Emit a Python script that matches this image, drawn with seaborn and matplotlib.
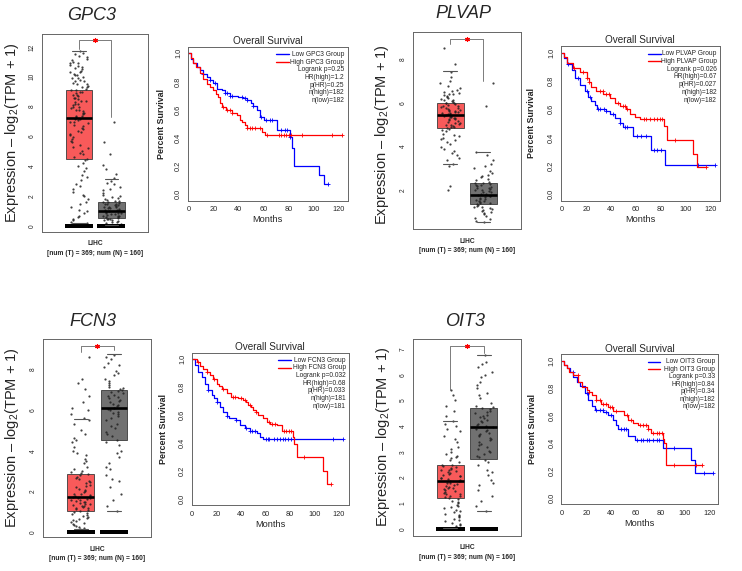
import numpy as np
import pandas as pd
import matplotlib
matplotlib.use("Agg")
import matplotlib.pyplot as plt
import seaborn as sns

sns.set_style("white")
plt.rcParams['font.family'] = ['Liberation Sans', 'DejaVu Sans']
plt.rcParams['mathtext.fontset'] = 'custom'
plt.rcParams['mathtext.rm'] = 'Liberation Sans'
plt.rcParams['mathtext.it'] = 'Liberation Sans:italic'
plt.rcParams['mathtext.bf'] = 'Liberation Sans:bold'

np.random.seed(3)

# ---------------- data ----------------
genes = ["GPC3", "PLVAP", "FCN3", "OIT3"]

# box statistics (tumor T / normal N)
t_q1 = [4.5, 4.85, 1.06, 1.22]
t_med = [7.22, 5.46, 1.75, 1.86]
t_q3 = [9.12, 5.98, 2.86, 2.48]
t_lo = [0.2, 3.19, 0.15, 0.05]
t_hi = [11.75, 7.48, 5.54, 4.21]
n_q1 = [0.52, 1.36, 4.54, 2.72]
n_med = [0.98, 1.8, 6.09, 3.98]
n_q3 = [1.59, 2.35, 6.97, 4.72]
n_lo = [0.05, 0.53, 1.04, 0.69]
n_hi = [3.17, 3.74, 8.72, 6.77]

# counts of zero-valued samples (drawn as the thick band at 0)
t_zero = [90, 0, 90, 90]
n_zero = [80, 0, 80, 80]

# individual sample points (representative)
gpc3_t = [11.7, 11.6, 11.5, 11.4, 11.3, 11.2, 11.1, 11.0, 10.95, 10.9, 10.8, 10.7, 10.65, 10.6,
          10.5, 10.4, 10.35, 10.3, 10.2, 10.15, 10.1, 10.0, 9.95, 9.9, 9.8, 9.75, 9.7, 9.6,
          9.55, 9.5, 9.4, 9.35, 9.3, 9.2, 9.15, 9.1, 9.0, 8.95, 8.9, 8.8, 8.75, 8.7, 8.6, 8.55,
          8.5, 8.4, 8.35, 8.3, 8.2, 8.15, 8.1, 8.0, 7.95, 7.9, 7.8, 7.75, 7.7, 7.6, 7.55, 7.5,
          7.4, 7.35, 7.3, 7.2, 7.15, 7.1, 7.0, 6.95, 6.9, 6.8, 6.7, 6.6, 6.5, 6.4, 6.3, 6.2,
          6.1, 6.0, 5.8, 5.7, 5.6, 5.4, 5.3, 5.2, 5.0, 4.9, 4.8, 4.6, 4.5, 4.4, 4.2, 4.0, 3.9,
          3.7, 3.4, 3.3, 3.1, 2.8, 2.7, 2.5, 2.3, 2.1, 2.0, 1.8, 1.6, 1.5, 1.3, 1.1, 1.0, 0.9,
          0.7, 0.6, 0.5, 0.4, 0.3, 0.2]
gpc3_n = [7.0, 5.6, 4.8, 4.1, 3.8, 3.5, 3.2, 3.0, 2.9, 2.8, 2.6, 2.5, 2.4, 2.2, 2.1, 2.0, 1.95,
          1.9, 1.8, 1.75, 1.7, 1.65, 1.62, 1.6, 1.55, 1.5, 1.48, 1.45, 1.4, 1.38, 1.35, 1.3,
          1.28, 1.25, 1.2, 1.18, 1.15, 1.1, 1.08, 1.05, 1.0, 0.98, 0.95, 0.9, 0.88, 0.85, 0.8,
          0.78, 0.75, 0.7, 0.68, 0.65, 0.6, 0.58, 0.55, 0.5, 0.48, 0.45, 0.4, 0.38, 0.35, 0.3,
          0.25, 0.2, 0.15, 0.1]
plvap_t = [8.5, 7.8, 7.4, 7.2, 7.0, 6.9, 6.8, 6.7, 6.6, 6.55, 6.5, 6.45, 6.42, 6.4, 6.35, 6.3,
           6.28, 6.25, 6.2, 6.15, 6.12, 6.1, 6.05, 6.02, 6.0, 5.98, 5.95, 5.9, 5.88, 5.85, 5.8,
           5.78, 5.75, 5.72, 5.7, 5.68, 5.65, 5.62, 5.6, 5.58, 5.55, 5.52, 5.5, 5.48, 5.45,
           5.42, 5.4, 5.38, 5.35, 5.32, 5.3, 5.28, 5.25, 5.2, 5.18, 5.15, 5.1, 5.08, 5.05, 5.0,
           4.98, 4.95, 4.9, 4.88, 4.85, 4.8, 4.75, 4.7, 4.6, 4.55, 4.5, 4.4, 4.35, 4.3, 4.2,
           4.1, 4.0, 3.9, 3.8, 3.7, 3.6, 3.5, 3.4, 3.2, 3.1, 2.2, 2.0]
plvap_n = [6.9, 5.85, 3.75, 3.6, 3.4, 3.2, 3.1, 3.0, 2.9, 2.8, 2.7, 2.65, 2.6, 2.5, 2.45, 2.4,
           2.35, 2.32, 2.3, 2.25, 2.22, 2.2, 2.15, 2.12, 2.1, 2.05, 2.02, 2.0, 1.95, 1.92, 1.9,
           1.85, 1.82, 1.8, 1.75, 1.72, 1.7, 1.65, 1.62, 1.6, 1.55, 1.52, 1.5, 1.45, 1.42, 1.4,
           1.35, 1.32, 1.3, 1.25, 1.22, 1.2, 1.15, 1.1, 1.05, 1.0, 0.95, 0.9, 0.8, 0.75, 0.7,
           0.6, 0.53]
fcn3_t = [8.6, 7.5, 7.3, 7.0, 6.7, 6.4, 6.1, 6.0, 5.8, 5.6, 5.5, 5.3, 5.0, 4.8, 4.6, 4.5, 4.4,
          4.2, 4.0, 3.9, 3.8, 3.6, 3.5, 3.4, 3.2, 3.1, 3.0, 2.95, 2.9, 2.85, 2.8, 2.7, 2.65, 2.6,
          2.5, 2.45, 2.4, 2.3, 2.25, 2.2, 2.1, 2.05, 2.0, 1.95, 1.9, 1.88, 1.85, 1.8, 1.78,
          1.75, 1.7, 1.68, 1.65, 1.6, 1.58, 1.55, 1.5, 1.48, 1.45, 1.4, 1.38, 1.35, 1.3, 1.28,
          1.25, 1.2, 1.18, 1.15, 1.1, 1.05, 1.0, 0.95, 0.9, 0.85, 0.8, 0.75, 0.7, 0.65, 0.6,
          0.55, 0.5, 0.45, 0.4, 0.35, 0.3, 0.25, 0.2, 0.15]
fcn3_n = [8.7, 8.6, 8.5, 8.3, 8.2, 8.1, 7.9, 7.8, 7.7, 7.5, 7.4, 7.3, 7.2, 7.1, 7.05, 7.0, 6.95,
          6.9, 6.85, 6.8, 6.75, 6.7, 6.65, 6.6, 6.5, 6.45, 6.4, 6.3, 6.25, 6.2, 6.1, 6.05, 6.0,
          5.9, 5.85, 5.8, 5.7, 5.6, 5.5, 5.3, 5.2, 5.1, 4.9, 4.8, 4.7, 4.5, 4.4, 4.3, 4.0, 3.9,
          3.7, 3.4, 3.2, 3.1, 2.8, 2.6, 2.5, 2.2, 1.9, 1.6, 1.3, 1.04]
oit3_t = [5.4, 5.2, 5.0, 4.8, 4.6, 4.4, 4.2, 4.1, 4.0, 3.9, 3.8, 3.6, 3.5, 3.4, 3.2, 3.1, 3.0,
          2.9, 2.85, 2.8, 2.75, 2.7, 2.6, 2.5, 2.48, 2.45, 2.4, 2.38, 2.35, 2.3, 2.28, 2.25,
          2.2, 2.18, 2.15, 2.1, 2.08, 2.05, 2.0, 1.98, 1.95, 1.9, 1.88, 1.85, 1.8, 1.78, 1.75,
          1.7, 1.68, 1.65, 1.6, 1.58, 1.55, 1.5, 1.48, 1.45, 1.4, 1.38, 1.35, 1.3, 1.28, 1.25,
          1.2, 1.18, 1.1, 1.05, 1.0, 0.95, 0.9, 0.85, 0.8, 0.75, 0.7, 0.65, 0.6, 0.55, 0.5,
          0.45, 0.4, 0.35, 0.3, 0.25, 0.2, 0.15, 0.1]
oit3_n = [6.77, 6.5, 6.4, 6.3, 6.1, 6.0, 5.9, 5.7, 5.6, 5.5, 5.3, 5.2, 5.1, 4.9, 4.8, 4.75,
          4.7, 4.65, 4.6, 4.55, 4.5, 4.45, 4.4, 4.35, 4.3, 4.25, 4.2, 4.15, 4.1, 4.05, 4.0,
          3.95, 3.9, 3.85, 3.8, 3.75, 3.7, 3.65, 3.6, 3.55, 3.5, 3.45, 3.4, 3.3, 3.25, 3.2,
          3.1, 3.05, 3.0, 2.9, 2.85, 2.8, 2.7, 2.6, 2.5, 2.3, 2.2, 2.1, 1.9, 1.8, 1.7, 1.5, 1.3,
          1.1, 0.9, 0.69]
points_t = [gpc3_t, plvap_t, fcn3_t, oit3_t]
points_n = [gpc3_n, plvap_n, fcn3_n, oit3_n]

# significance brackets: bar height, left leg end, right leg end
br_y = [12.44, 8.93, 9.15, 7.12]
br_left = [11.87, 8.72, 8.84, 5.41]
br_right = [7.3, 7.03, 8.94, 6.83]

box_ylim = [(-0.4, 12.87), (0.21, 9.24), (-0.245, 9.47), (-0.27, 7.39)]
box_yticks = [[0, 2, 4, 6, 8, 10, 12], [2, 4, 6, 8], [0, 2, 4, 6, 8], [0, 1, 2, 3, 4, 5, 6, 7]]

# Kaplan-Meier curves: event times and survival after each step
km = {
    "GPC3": {
        "low_t": [2, 4, 7, 9.3, 12, 14.6, 17, 20, 22.6, 26.6, 29, 33, 40, 44, 46.5, 50, 52, 54.5,
                  57, 60, 70.5, 81, 82.4, 84.5, 104.5, 108],
        "low_s": [0.96, 0.93, 0.90, 0.88, 0.85, 0.83, 0.81, 0.79, 0.75, 0.74, 0.72, 0.70, 0.69,
                  0.68, 0.67, 0.65, 0.63, 0.60, 0.55, 0.53, 0.455, 0.41, 0.33, 0.20, 0.135, 0.07],
        "low_end": 111.5,
        "low_c": [12, 17, 21, 29, 31, 33, 35, 43, 45, 47, 52, 58, 62, 65, 67, 74, 77, 79, 81, 111.5],
        "high_t": [2, 4, 6, 9, 12, 15, 17, 20, 22, 24, 25.5, 26.6, 30, 35, 38.6, 41, 43, 45, 46.5,
                   58.5, 61],
        "high_s": [0.97, 0.93, 0.90, 0.86, 0.82, 0.78, 0.76, 0.74, 0.71, 0.69, 0.65, 0.62, 0.60,
                   0.58, 0.56, 0.53, 0.51, 0.49, 0.47, 0.44, 0.42],
        "high_end": 123,
        "high_c": [28, 31, 33, 35, 47, 49, 51, 53, 57, 63, 72, 74, 76, 78, 80, 82, 91, 115, 123],
        "stats": ["Logrank p=0.25", "HR(high)=1.2", "p(HR)=0.25", "n(high)=182", "n(low)=182"],
        "xlim": (-0.5, 127.2),
    },
    "PLVAP": {
        "low_t": [2, 4, 8, 10.7, 14.8, 18.8, 21.5, 24, 26.8, 28.7, 36, 39, 43, 47, 49.7, 57.7,
                  72, 83.5],
        "low_s": [0.96, 0.92, 0.88, 0.82, 0.775, 0.73, 0.69, 0.66, 0.63, 0.60, 0.585, 0.57, 0.54,
                  0.50, 0.475, 0.41, 0.31, 0.205],
        "low_end": 123.5,
        "low_c": [5, 13, 20, 23, 29, 31, 34, 36, 41, 47, 51, 53, 61, 64, 68, 74, 77, 80, 110, 123.5],
        "high_t": [2, 4, 9.4, 14.8, 20, 22, 24, 28, 33.5, 39, 43, 47, 52, 55, 59, 63, 82.4, 84.6,
                   105.5, 108.7],
        "high_s": [0.97, 0.93, 0.89, 0.86, 0.82, 0.79, 0.76, 0.73, 0.71, 0.68, 0.645, 0.62, 0.60,
                   0.57, 0.545, 0.53, 0.485, 0.38, 0.285, 0.19],
        "high_end": 116,
        "high_c": [10, 17, 20, 22, 31, 33, 36, 38, 45, 49, 51, 53, 66, 68, 71, 74, 77, 79, 81, 91, 116],
        "stats": ["Logrank p=0.026", "HR(high)=0.67", "p(HR)=0.027", "n(high)=182", "n(low)=182"],
        "xlim": (-0.8, 127.5),
    },
    "FCN3": {
        "low_t": [2, 5, 7.6, 10.4, 13, 15.8, 18, 20, 22.6, 25.4, 28, 30, 36, 39, 43, 47, 52.6, 55, 58],
        "low_s": [0.957, 0.91, 0.874, 0.82, 0.78, 0.743, 0.72, 0.695, 0.66, 0.624, 0.593, 0.576,
                  0.564, 0.528, 0.505, 0.488, 0.474, 0.44, 0.429],
        "low_end": 123.5,
        "low_c": [13, 20, 28, 36, 44, 47, 49, 51, 60, 62, 63, 67, 69, 72, 74, 76, 78, 81, 115, 123.5],
        "high_t": [3.5, 6, 9, 12, 14.5, 17, 20, 22, 24, 28, 32, 37.6, 41.7, 44, 45.8, 48, 50, 52, 54,
                   58, 60.8, 63.5, 69, 73, 82, 83.5, 85.4, 107, 110],
        "high_s": [0.98, 0.95, 0.93, 0.91, 0.885, 0.86, 0.826, 0.81, 0.79, 0.76, 0.73, 0.72, 0.707,
                   0.69, 0.67, 0.655, 0.636, 0.62, 0.60, 0.576, 0.552, 0.536, 0.528, 0.488, 0.445,
                   0.39, 0.30, 0.20, 0.107],
        "high_end": 113.5,
        "high_c": [5, 12, 18, 25, 33, 35, 40, 43, 47, 52, 63, 65, 68, 75, 77, 79, 81, 91, 113.5],
        "stats": ["Logrank p=0.032", "HR(high)=0.68", "p(HR)=0.033", "n(high)=181", "n(low)=181"],
        "xlim": (-0.5, 128.2),
    },
    "OIT3": {
        "low_t": [2, 3.8, 6.5, 9.2, 12, 14.6, 18.7, 21.4, 24, 26.8, 33.6, 37.7, 41.7, 44, 45.8, 54,
                  59.3, 82.4, 105, 108],
        "low_s": [0.97, 0.945, 0.92, 0.884, 0.848, 0.817, 0.764, 0.716, 0.667, 0.639, 0.624, 0.607,
                  0.571, 0.53, 0.50, 0.455, 0.422, 0.366, 0.277, 0.186],
        "low_end": 122.5,
        "low_c": [9, 20, 28, 31, 33, 36, 40, 48, 50, 52, 61, 64, 66, 69, 71, 74, 77, 79, 91, 115, 122.5],
        "high_t": [2, 3.8, 6, 9.2, 13.3, 16, 20, 22, 24, 28, 32, 37.7, 41.7, 50, 54, 58, 62, 70,
                   72.4, 82, 83, 84.5],
        "high_s": [0.97, 0.945, 0.92, 0.896, 0.848, 0.807, 0.788, 0.77, 0.752, 0.716, 0.687, 0.663,
                   0.636, 0.607, 0.571, 0.547, 0.53, 0.50, 0.475, 0.434, 0.40, 0.24],
        "high_end": 114,
        "high_c": [13, 22, 28, 31, 33, 36, 39, 41, 44, 53, 56, 63, 66, 68, 70, 74, 77, 79, 81, 91,
                   109, 114],
        "stats": ["Logrank p=0.33", "HR(high)=0.84", "p(HR)=0.34", "n(high)=182", "n(low)=182"],
        "xlim": (-0.8, 127.0),
    },
}

# ---------------- layout (pixel boxes: left, top, right, bottom) ----------------
W, H = 742, 571
box_rects = [(42, 34, 148, 232), (412.7, 32.3, 520.7, 229.3),
             (43.3, 339, 151, 537.3), (412.7, 339, 521, 536)]
km_rects = [(187.7, 46.7, 347.7, 200.7), (560.7, 46, 720, 200.7),
            (191.7, 352.7, 349, 505), (561, 354.3, 718.3, 504.3)]
title_pos = [(92, 15), (463, 14), (93, 321.5), (465, 321)]
ylab_pos = [(12.5, 133), (382, 135), (12.5, 437.5), (382.5, 436.7)]
km_ylab_x = [161.7, 531.7, 163.3, 532.7]

fig = plt.figure(figsize=(W / 100, H / 100), dpi=100)


def add_ax(r):
    l, t, rr, b = r
    return fig.add_axes([l / W, 1 - b / H, (rr - l) / W, (b - t) / H])


RED_BOX = "#F85A5A"
GRAY_BOX = "#717171"
FRAME = "#666666"

for i, g in enumerate(genes):
    # ---------- box panel ----------
    ax = add_ax(box_rects[i])
    df = pd.DataFrame({"grp": ["T"] * len(points_t[i]) + ["N"] * len(points_n[i]),
                       "val": points_t[i] + points_n[i]})
    sns.stripplot(data=df, x="grp", y="val", order=["T", "N"], jitter=0.3, size=1.6,
                  color="#222222", linewidth=0, alpha=0.85, ax=ax, zorder=2)
    if t_zero[i] + n_zero[i] > 0:
        dz = pd.DataFrame({"grp": ["T"] * t_zero[i] + ["N"] * n_zero[i],
                           "val": [0.0] * (t_zero[i] + n_zero[i])})
        sns.stripplot(data=dz, x="grp", y="val", order=["T", "N"], jitter=0.37, size=2.2,
                      marker="s", color="black", linewidth=0, ax=ax, zorder=2)
    stats = [dict(med=t_med[i], q1=t_q1[i], q3=t_q3[i], whislo=t_lo[i], whishi=t_hi[i], fliers=[]),
             dict(med=n_med[i], q1=n_q1[i], q3=n_q3[i], whislo=n_lo[i], whishi=n_hi[i], fliers=[])]
    bp = ax.bxp(stats, positions=[0, 1], widths=0.8, patch_artist=True, showfliers=False,
                boxprops=dict(edgecolor="#3a3a3a", linewidth=0.6, zorder=1),
                medianprops=dict(color="black", linewidth=1.9, zorder=3),
                whiskerprops=dict(linewidth=0),
                capprops=dict(color="#555555", linewidth=0.8, zorder=3), capwidths=0.42)
    bp["boxes"][0].set_facecolor(RED_BOX)
    bp["boxes"][1].set_facecolor(GRAY_BOX)
    # bracket
    ax.plot([0, 0, 1, 1], [br_left[i], br_y[i], br_y[i], br_right[i]], color="#666666", lw=0.6)
    ax.plot([0.5], [br_y[i]], marker=(6, 2, 0), ms=3.5, mew=0.8, color="red")
    ax.set_xlim(-1.13, 2.12)
    ax.set_ylim(*box_ylim[i])
    ax.set_yticks(box_yticks[i])
    ax.set_yticklabels([str(v) for v in box_yticks[i]], rotation=90, va="center", fontsize=4.8)
    ax.set_xticks([0.5])
    ax.set_xticklabels(["LIHC\n[num (T) = 369; num (N) = 160]"], fontsize=4.8,
                       fontweight="bold", linespacing=1.5)
    ax.set_xlabel("")
    ax.set_ylabel("")
    ax.tick_params(axis="both", direction="out", length=2.5, width=0.5, color=FRAME, pad=2)
    ax.tick_params(axis="x", pad=3.5)
    for s in ax.spines.values():
        s.set_color(FRAME)
        s.set_linewidth(0.7)
    fig.text(title_pos[i][0] / W, 1 - title_pos[i][1] / H, g, fontsize=13, style="italic",
             ha="center", va="center")
    fig.text(ylab_pos[i][0] / W, 1 - ylab_pos[i][1] / H, "Expression – log$_2$(TPM + 1)",
             fontsize=10.5, rotation=90, ha="center", va="center")

    # ---------- KM panel ----------
    k = km[g]
    ax2 = add_ax(km_rects[i])
    for grp, col in (("low", "#0000FF"), ("high", "#FF0000")):
        xs = [0.0] + k[grp + "_t"] + [k[grp + "_end"]]
        ys = [1.0] + k[grp + "_s"] + [k[grp + "_s"][-1]]
        sns.lineplot(x=xs, y=ys, drawstyle="steps-post", color=col, lw=0.9, ax=ax2,
                     estimator=None, sort=False)
        ct = np.array(k[grp + "_c"], dtype=float)
        idx = np.searchsorted(np.array(xs), ct, side="right") - 1
        cy = np.array(ys)[idx]
        ax2.plot(ct, cy, linestyle="none", marker="+", ms=3.5, mew=0.6, color=col)
    ax2.set_xlim(*k["xlim"])
    ax2.set_ylim(-0.045, 1.047)
    ax2.set_xticks([0, 20, 40, 60, 80, 100, 120])
    ax2.set_xticklabels(["0", "20", "40", "60", "80", "100", "120"], fontsize=5.3)
    ax2.set_yticks([0, 0.2, 0.4, 0.6, 0.8, 1.0])
    ax2.set_yticklabels(["0.0", "0.2", "0.4", "0.6", "0.8", "1.0"], rotation=90,
                        va="center", fontsize=5.3)
    ax2.tick_params(axis="both", direction="out", length=2.5, width=0.5, color=FRAME, pad=1.5)
    for s in ax2.spines.values():
        s.set_color(FRAME)
        s.set_linewidth(0.7)
    ax2.set_title("Overall Survival", fontsize=7.2, pad=2)
    ax2.set_xlabel("Months", fontsize=6.6, labelpad=1.5)
    ax2.set_ylabel("")
    kr = km_rects[i]
    fig.text(km_ylab_x[i] / W, 1 - ((kr[1] + kr[3]) / 2) / H, "Percent Survival", fontsize=6.4,
             fontweight="bold", rotation=90, ha="center", va="center")
    # legend
    ys_leg = [0.95 - 0.05 * j for j in range(7)]
    ax2.plot([0.55, 0.63], [ys_leg[0]] * 2, color="#0000FF", lw=1, transform=ax2.transAxes)
    ax2.plot([0.55, 0.63], [ys_leg[1]] * 2, color="#FF0000", lw=1, transform=ax2.transAxes)
    lines = ["Low %s Group" % g, "High %s Group" % g] + k["stats"]
    for j, s in enumerate(lines):
        ax2.text(0.98, ys_leg[j], s, ha="right", va="center", fontsize=4.8,
                 transform=ax2.transAxes)

fig.savefig("out.png", dpi=100)
